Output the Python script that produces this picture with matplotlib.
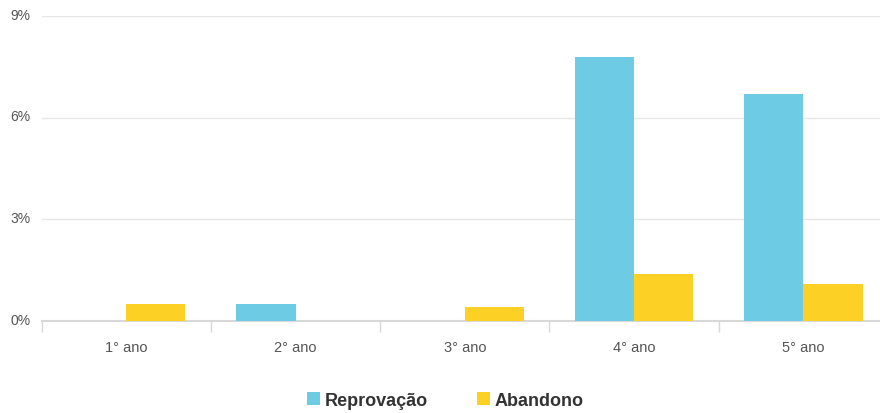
import numpy as np
import matplotlib.pyplot as plt
import matplotlib.transforms as mtransforms

plt.rcParams["font.family"] = ["Liberation Sans", "DejaVu Sans"]

categories = ["1° ano", "2° ano", "3° ano", "4° ano", "5° ano"]
reprovacao = [0.0, 0.5, 0.0, 7.8, 6.7]
abandono = [0.5, 0.0, 0.4, 1.4, 1.1]

blue = "#6ECBE4"
yellow = "#FCD025"

fig = plt.figure(figsize=(8.8, 4.14), dpi=100)
ax = fig.add_axes([0.0472, 0.2222, 0.962, 0.737])

x = np.arange(len(categories))
w = 0.35
ax.bar(x - w / 2, reprovacao, w, color=blue, label="Reprovação", zorder=3)
ax.bar(x + w / 2, abandono, w, color=yellow, label="Abandono", zorder=3)

ax.set_xlim(-0.5, len(categories) - 0.5)
ax.set_ylim(0, 9)
ax.set_yticks([0, 3, 6, 9])
ax.set_yticklabels(["0%", "3%", "6%", "9%"])
ax.yaxis.grid(True, color="#e6e6e6", linewidth=1, zorder=0)
ax.tick_params(axis="y", length=0, pad=8, labelsize=10, labelcolor="#555555")
shift = mtransforms.ScaledTranslation(0, 1 / 72, fig.dpi_scale_trans)
for lab in ax.get_yticklabels():
    lab.set_verticalalignment("center")
    lab.set_transform(lab.get_transform() + shift)

# category labels centred, tick marks on the boundaries
ax.set_xticks(x)
ax.set_xticklabels(categories)
ax.tick_params(axis="x", length=0, pad=14, labelsize=10.5, labelcolor="#555555")
ax.set_xticks(np.arange(len(categories) + 1) - 0.5, minor=True)
ax.tick_params(axis="x", which="minor", length=8, color="#d8d8d8", width=1)

for s in ["top", "right", "left"]:
    ax.spines[s].set_visible(False)
ax.spines["bottom"].set_color("#d8d8d8")
ax.spines["bottom"].set_linewidth(1.5)

leg = fig.legend(loc="center", bbox_to_anchor=(0.506, 0.03), ncol=2, frameon=False,
                 prop={"weight": "bold", "size": 13}, handlelength=0.75, handleheight=0.75,
                 handletextpad=0.25, columnspacing=2.7, labelcolor="#333333")

fig.savefig("out.png", dpi=100)
